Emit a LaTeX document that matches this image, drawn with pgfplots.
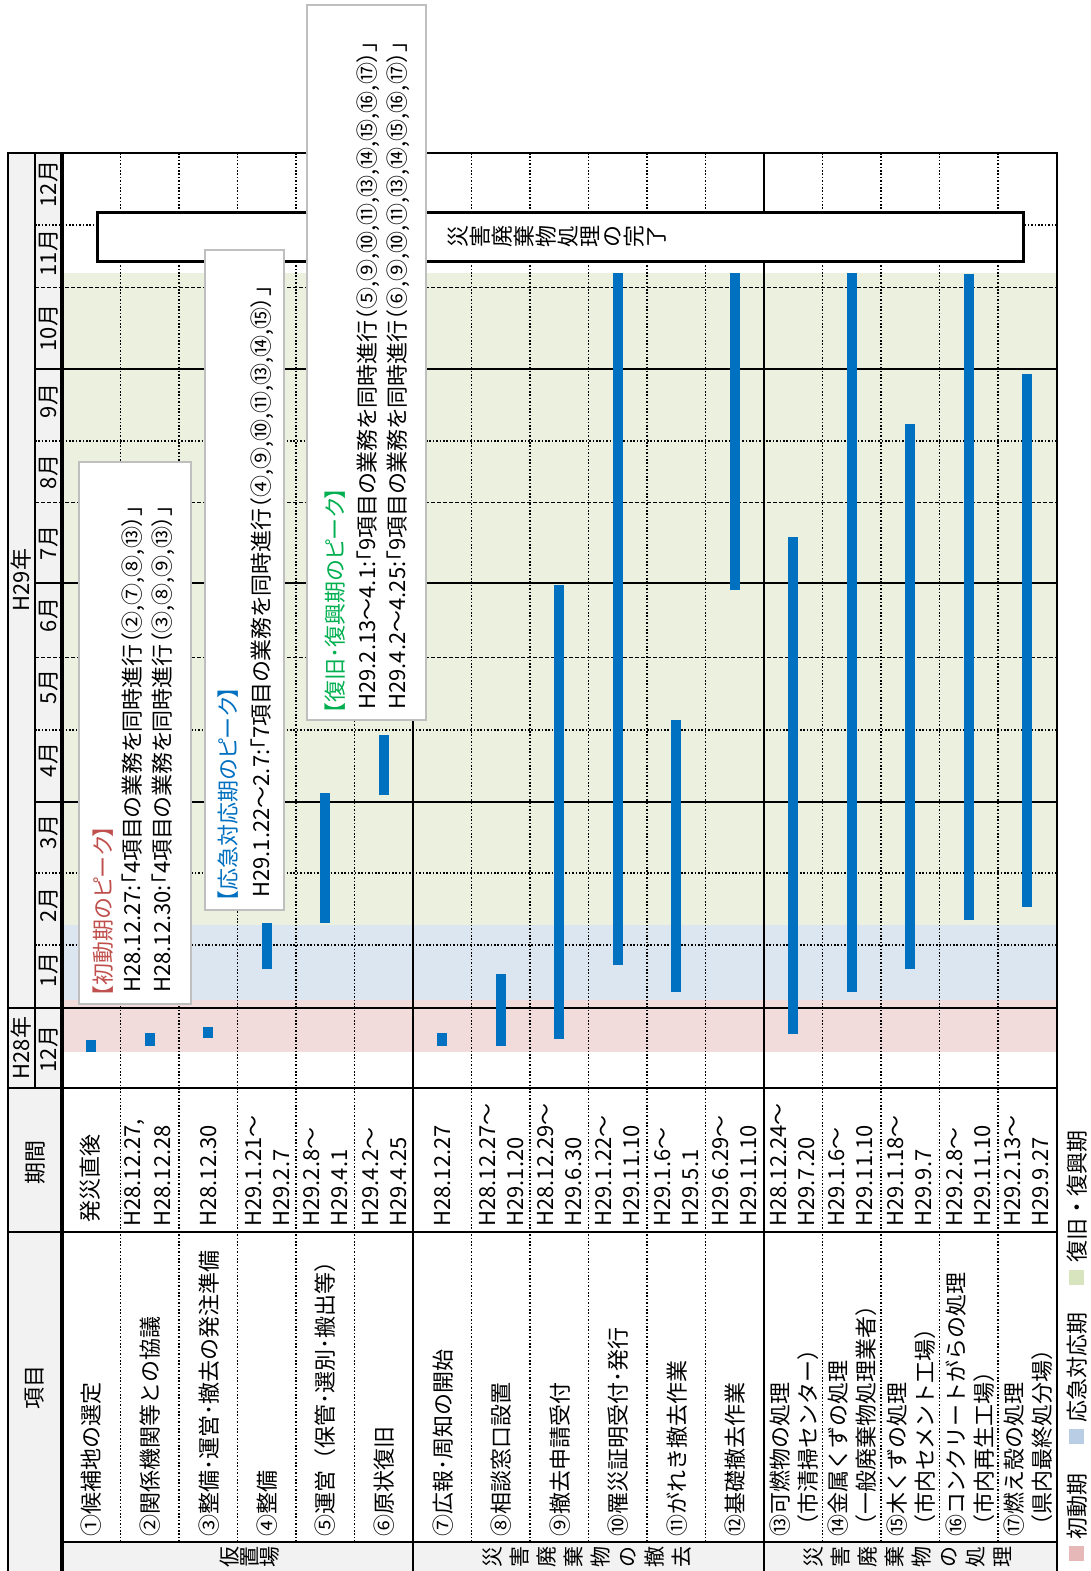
\documentclass[border=0pt]{standalone}
\usepackage{pgfplots}
\pgfplotsset{compat=1.18}
\usepackage{fontspec}
\setmainfont{Noto Sans CJK JP}
\newfontfamily\jpprop[RawFeature=+palt]{Noto Sans CJK JP}
\definecolor{barblue}{HTML}{0070C0}
\definecolor{bandpink}{HTML}{F2DCDB}
\definecolor{bandblue}{HTML}{DCE6F1}
\definecolor{bandgreen}{HTML}{EBF1DE}
\definecolor{legpink}{HTML}{E6B9B8}
\definecolor{legblue}{HTML}{B9CDE5}
\definecolor{leggreen}{HTML}{D7E4BD}
\definecolor{hdrgrey}{HTML}{F2F2F2}
\definecolor{boxgrey}{HTML}{BFBFBF}
\definecolor{titlered}{HTML}{C0504D}
\definecolor{titlegreen}{HTML}{00B050}
\newcommand{\fs}{\fontsize{11pt}{13pt}\selectfont}
% x = item row number (1..17), y = months elapsed since 1 Dec 2016 (H28)
\pgfplotsset{
  gantt/.style={x filter/.expression={62+58.5*(x-0.5)}, y filter/.expression={1088-71.923*y}, forget plot},
  bar/.style={gantt, draw=barblue, line width=5pt},
}
\begin{document}
\begin{tikzpicture}[
  dotl/.style={line width=0.8pt, dash pattern=on 0.8pt off 0.9pt},
  dashl/.style={line width=0.5pt, dash pattern=on 2pt off 1pt},
  solidl/.style={line width=0.6pt},
  rt/.style={rotate=90, inner sep=0pt, font=\fs},
  bt/.style={rotate=90, inner sep=0pt, anchor=west, font=\jpprop\fs},
]
\useasboundingbox (0,0) rectangle (545.5pt,785.5pt);
\begin{axis}[at={(0,0)}, anchor=south west, width=545.5pt, height=785.5pt,
  scale only axis, hide axis, clip=false,
  xmin=0, xmax=1091, ymin=0, ymax=1571, y dir=reverse]

% header fills
\fill[hdrgrey] (8,153) rectangle (62,1571);
\fill[hdrgrey] (62,1542) rectangle (1057,1571);

% phase bands
\addplot[gantt, draw=none, fill=bandpink] coordinates {(0.5,0.500) (17.5,0.500) (17.5,1.224) (0.5,1.224)} -- cycle;
\addplot[gantt, draw=none, fill=bandblue] coordinates {(0.5,1.224) (17.5,1.224) (17.5,2.266) (0.5,2.266)} -- cycle;
\addplot[gantt, draw=none, fill=bandgreen] coordinates {(0.5,2.266) (17.5,2.266) (17.5,11.33) (0.5,11.33)} -- cycle;

% month grid lines
\draw[solidl] (8,1008) -- (1057,1008);
\draw[dotl] (35,945) -- (1057,945);
\draw[dotl] (35,873) -- (1057,873);
\draw[solidl] (35,802) -- (1057,802);
\draw[dotl] (35,730) -- (1057,730);
\draw[dashl] (35,657) -- (1057,657);
\draw[solidl] (35,583) -- (1057,583);
\draw[dashl] (35,502) -- (1057,502);
\draw[dotl] (35,441) -- (1057,441);
\draw[solidl] (35,369) -- (1057,369);
\draw[dashl] (35,287) -- (1057,287);
\draw[dotl] (35,225) -- (1057,225);

% row separators
\pgfplotsinvokeforeach{120.5,179,237.5,296,354.5,471.5,530,588.5,647,705.5,822.5,881,939.5,998}{
  \draw[dotl] (#1,153) -- (#1,1542);
}
\draw[solidl] (413,153) -- (413,1571);
\draw[solidl] (764,153) -- (764,1571);

% bars
\addplot[bar] coordinates {(1,0.494) (1,0.667)};
\addplot[bar] coordinates {(2,0.588) (2,0.765)};
\addplot[bar] coordinates {(3,0.695) (3,0.848)};
\addplot[bar] coordinates {(4,1.660) (4,2.294)};
\addplot[bar] coordinates {(5,2.294) (5,4.102)};
\addplot[bar] coordinates {(6,4.074) (6,4.908)};
\addplot[bar] coordinates {(7,0.584) (7,0.765)};
\addplot[bar] coordinates {(8,0.584) (8,1.585)};
\addplot[bar] coordinates {(9,0.681) (9,6.994)};
\addplot[bar] coordinates {(10,1.710) (10,11.332)};
\addplot[bar] coordinates {(11,1.335) (11,5.117)};
\addplot[bar] coordinates {(12,6.924) (12,11.332)};
\addplot[bar] coordinates {(13,0.751) (13,7.661)};
\addplot[bar] coordinates {(14,1.335) (14,11.332)};
\addplot[bar] coordinates {(15,1.655) (15,9.232)};
\addplot[bar] coordinates {(16,2.336) (16,11.318)};
\addplot[bar] coordinates {(17,2.517) (17,9.927)};

% frame
\draw[line width=0.6pt] (8,1571) -- (8,153) -- (1057,153) -- (1057,1571);
\draw[solidl] (35,153) -- (35,1088);
\draw[line width=1pt] (8,1088) -- (1057,1088);
\draw[solidl] (8,1232) -- (1057,1232);
\draw[solidl] (62,1542) -- (1057,1542);
\draw[line width=1.6pt] (62,153) -- (62,1571);

% completion box
\draw[line width=1.5pt, fill=white] (97,212) rectangle (1023,261);
\node[rotate=90, align=center, inner sep=0pt, font=\fontsize{11pt}{11pt}\selectfont] at (557,236.5) {災\\害\\廃\\棄\\物\\処\\理\\の\\完\\了};

% annotation boxes
\draw[boxgrey, line width=1pt, fill=white] (79,462) rectangle (191,1004);
\node[bt, text=titlered] at (103,997) {【初動期のピーク】};
\node[bt] at (133,993) {H28.12.27:「4項目の業務を同時進行（②,⑦,⑧,⑬）」};
\node[bt] at (163,993) {H28.12.30:「4項目の業務を同時進行（③,⑧,⑨,⑬）」};

\draw[boxgrey, line width=1pt, fill=white] (205,250) rectangle (284,910);
\node[bt, text=barblue] at (228,902) {【応急対応期のピーク】};
\node[bt] at (262,898) {H29.1.22～2.7:「7項目の業務を同時進行（④,⑨,⑩,⑪,⑬,⑭,⑮）」};

\draw[boxgrey, line width=1pt, fill=white] (307,5) rectangle (426,720);
\node[bt, text=titlegreen] at (335,714) {【復旧･復興期のピーク】};
\node[bt] at (368,710) {H29.2.13～4.1:「9項目の業務を同時進行（⑤,⑨,⑩,⑪,⑬,⑭,⑮,⑯,⑰）」};
\node[bt] at (398,710) {H29.4.2～4.25:「9項目の業務を同時進行（⑥,⑨,⑩,⑪,⑬,⑭,⑮,⑯,⑰）」};

% header texts
\node[rt] at (21,1048) {H28年};
\node[rt] at (21,580) {H29年};
\node[rt] at (49,1049) {12月};
\node[rt] at (49,970) {1月};
\node[rt] at (49,905) {2月};
\node[rt] at (49,832) {3月};
\node[rt] at (49,760) {4月};
\node[rt] at (49,687) {5月};
\node[rt] at (49,615) {6月};
\node[rt] at (49,543) {7月};
\node[rt] at (49,472) {8月};
\node[rt] at (49,401) {9月};
\node[rt] at (49,328) {10月};
\node[rt] at (49,253) {11月};
\node[rt] at (49,184) {12月};
\node[rt] at (35,1162) {期間};
\node[rt] at (35,1387) {項目};

% period column
\node[rt] at (90,1178) {発災直後};
\node[rt, anchor=west] at (135,1227) {H28.12.27,};
\node[rt, anchor=west] at (163,1227) {H28.12.28};
\node[rt, anchor=west] at (209,1227) {H28.12.30};
\node[rt, anchor=west] at (254,1227) {H29.1.21～};
\node[rt, anchor=west] at (282,1227) {H29.2.7};
\node[rt, anchor=west] at (312,1227) {H29.2.8～};
\node[rt, anchor=west] at (340,1227) {H29.4.1};
\node[rt, anchor=west] at (371,1227) {H29.4.2～};
\node[rt, anchor=west] at (399,1227) {H29.4.25};
\node[rt, anchor=west] at (443,1227) {H28.12.27};
\node[rt, anchor=west] at (488,1227) {H28.12.27～};
\node[rt, anchor=west] at (516,1227) {H29.1.20};
\node[rt, anchor=west] at (546,1227) {H28.12.29～};
\node[rt, anchor=west] at (574,1227) {H29.6.30};
\node[rt, anchor=west] at (604,1227) {H29.1.22～};
\node[rt, anchor=west] at (632,1227) {H29.11.10};
\node[rt, anchor=west] at (663,1227) {H29.1.6～};
\node[rt, anchor=west] at (691,1227) {H29.5.1};
\node[rt, anchor=west] at (721,1227) {H29.6.29～};
\node[rt, anchor=west] at (749,1227) {H29.11.10};
\node[rt, anchor=west] at (779,1227) {H28.12.24～};
\node[rt, anchor=west] at (807,1227) {H29.7.20};
\node[rt, anchor=west] at (837,1227) {H29.1.6～};
\node[rt, anchor=west] at (865,1227) {H29.11.10};
\node[rt, anchor=west] at (896,1227) {H29.1.18～};
\node[rt, anchor=west] at (924,1227) {H29.9.7};
\node[rt, anchor=west] at (955,1227) {H29.2.8～};
\node[rt, anchor=west] at (983,1227) {H29.11.10};
\node[rt, anchor=west] at (1013,1227) {H29.2.13～};
\node[rt, anchor=west] at (1041,1227) {H29.9.27};

% item column
\node[rt, anchor=west] at (91,1537) {①候補地の選定};
\node[rt, anchor=west] at (150,1537) {②関係機関等との協議};
\node[rt, anchor=west] at (209,1537) {③整備･運営･撤去の発注準備};
\node[rt, anchor=west] at (267,1537) {④整備};
\node[rt, anchor=west] at (325,1537) {⑤運営（保管･選別･搬出等）};
\node[rt, anchor=west] at (384,1537) {⑥原状復旧};
\node[rt, anchor=west] at (443,1537) {⑦広報･周知の開始};
\node[rt, anchor=west] at (501,1537) {⑧相談窓口設置};
\node[rt, anchor=west] at (560,1537) {⑨撤去申請受付};
\node[rt, anchor=west] at (618,1537) {⑩罹災証明受付･発行};
\node[rt, anchor=west] at (677,1537) {⑪がれき撤去作業};
\node[rt, anchor=west] at (735,1537) {⑫基礎撤去作業};
\node[rt, anchor=west] at (780,1537) {⑬可燃物の処理};
\node[rt, anchor=west] at (808,1537) {（市清掃センター）};
\node[rt, anchor=west] at (838,1537) {⑭金属くずの処理};
\node[rt, anchor=west] at (866,1537) {（一般廃棄物処理業者）};
\node[rt, anchor=west] at (897,1537) {⑮木くずの処理};
\node[rt, anchor=west] at (925,1537) {（市内セメント工場）};
\node[rt, anchor=west] at (956,1537) {⑯コンクリートがらの処理};
\node[rt, anchor=west] at (984,1537) {（市内再生工場）};
\node[rt, anchor=west] at (1014,1537) {⑰燃え殻の処理};
\node[rt, anchor=west] at (1042,1537) {（県内最終処分場）};

% group labels
\node[rotate=90, align=center, inner sep=0pt, font=\fontsize{10.5pt}{10pt}\selectfont] at (250,1557) {仮\\置\\場};
\node[rotate=90, align=center, inner sep=0pt, font=\fontsize{10.5pt}{13.5pt}\selectfont] at (587,1557) {災\\害\\廃\\棄\\物\\の\\撤\\去};
\node[rotate=90, align=center, inner sep=0pt, font=\fontsize{10.5pt}{13.5pt}\selectfont] at (908,1557) {災\\害\\廃\\棄\\物\\の\\処\\理};

% legend
\fill[legpink] (1069,1546) rectangle (1084,1561);
\node[rt, anchor=west] at (1077,1540) {初動期};
\fill[legblue] (1069,1429) rectangle (1084,1444);
\node[rt, anchor=west] at (1077,1423) {応急対応期};
\fill[leggreen] (1069,1270) rectangle (1084,1285);
\node[rt, anchor=west] at (1077,1263) {復旧・復興期};
\end{axis}
\end{tikzpicture}
\end{document}
